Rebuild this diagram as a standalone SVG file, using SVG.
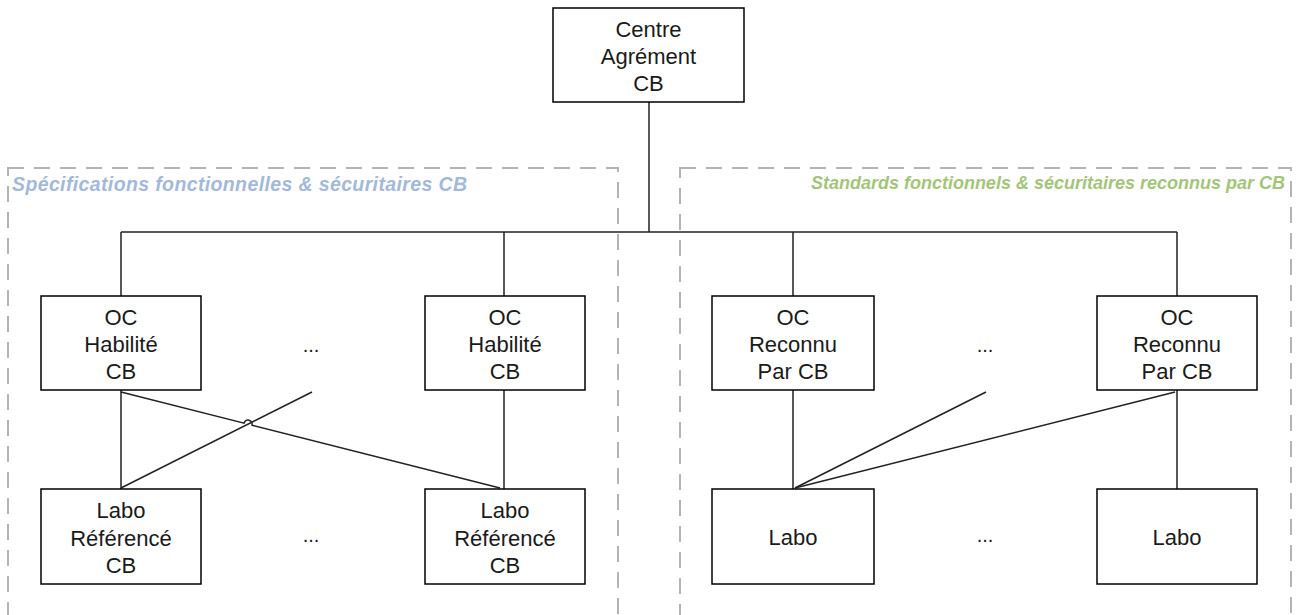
<svg xmlns="http://www.w3.org/2000/svg" width="1301" height="615" viewBox="0 0 1301 615">
<style>
.box{fill:#fff;stroke:#000;stroke-width:1.5}
.t{font-family:"Liberation Sans",Arial,sans-serif;font-size:22px;fill:#1a1a1a;text-anchor:middle}
.dots{font-family:"Liberation Sans",Arial,sans-serif;font-size:20px;fill:#1a1a1a;text-anchor:middle}
.zone{fill:none;stroke:#b4b4b4;stroke-width:2;stroke-dasharray:16 10}
.lbl{font-family:"Liberation Sans",Arial,sans-serif;font-style:italic;font-weight:bold}
.c{fill:none;stroke:#222;stroke-width:1.5}
</style>
<rect width="1301" height="615" fill="#fff"/>
<g id="zones">
<rect class="zone" x="8" y="168" width="610" height="460"/>
<rect class="zone" x="680" y="168" width="611" height="460"/>
<text class="lbl" x="12" y="191" font-size="19.5" textLength="455" lengthAdjust="spacing" fill="#a3b9d9">Spécifications fonctionnelles &amp; sécuritaires CB</text>
<text class="lbl" x="1285" y="189" font-size="18" fill="#a3c57a" text-anchor="end">Standards fonctionnels &amp; sécuritaires reconnus par CB</text>
</g>
<g id="connectors">
<path class="c" d="M649,102 V232"/>
<path class="c" d="M121,232 H1177"/>
<path class="c" d="M121,232 V296 M504,232 V296 M793,232 V296 M1177,232 V296"/>
<path class="c" d="M121,390 V489 M504,390 V489 M793,390 V489 M1177,390 V489"/>
<path class="c" d="M121,392 L244,423.2 A4,4 0 0 1 252,425.2 L500,488"/>
<path class="c" d="M121,488 L312,392"/>
<path class="c" d="M795,488 L986,392"/>
<path class="c" d="M795,488 L1175,392"/>
</g>
<g id="centre">
<rect class="box" x="553" y="8" width="191" height="94"/>
<text class="t" x="648.5" y="37">Centre</text>
<text class="t" x="648.5" y="64">Agrément</text>
<text class="t" x="648.5" y="91">CB</text>
</g>
<g id="oc-habilite-1">
<rect class="box" x="41" y="296" width="160" height="94"/>
<text class="t" x="121" y="325">OC</text>
<text class="t" x="121" y="352">Habilité</text>
<text class="t" x="121" y="379">CB</text>
</g>
<g id="oc-habilite-2">
<rect class="box" x="425" y="296" width="160" height="94"/>
<text class="t" x="505" y="325">OC</text>
<text class="t" x="505" y="352">Habilité</text>
<text class="t" x="505" y="379">CB</text>
</g>
<g id="oc-reconnu-1">
<rect class="box" x="712" y="296" width="162" height="94"/>
<text class="t" x="793" y="325">OC</text>
<text class="t" x="793" y="352">Reconnu</text>
<text class="t" x="793" y="379">Par CB</text>
</g>
<g id="oc-reconnu-2">
<rect class="box" x="1097" y="296" width="160" height="94"/>
<text class="t" x="1177" y="325">OC</text>
<text class="t" x="1177" y="352">Reconnu</text>
<text class="t" x="1177" y="379">Par CB</text>
</g>
<g id="labo-ref-1">
<rect class="box" x="41" y="489" width="160" height="95"/>
<text class="t" x="121" y="518">Labo</text>
<text class="t" x="121" y="546">Référencé</text>
<text class="t" x="121" y="573">CB</text>
</g>
<g id="labo-ref-2">
<rect class="box" x="425" y="489" width="160" height="95"/>
<text class="t" x="505" y="518">Labo</text>
<text class="t" x="505" y="546">Référencé</text>
<text class="t" x="505" y="573">CB</text>
</g>
<g id="labo-1">
<rect class="box" x="712" y="489" width="162" height="95"/>
<text class="t" x="793" y="545">Labo</text>
</g>
<g id="labo-2">
<rect class="box" x="1097" y="489" width="160" height="95"/>
<text class="t" x="1177" y="545">Labo</text>
</g>
<g id="ellipses">
<text class="dots" x="311" y="352">...</text>
<text class="dots" x="311" y="542">...</text>
<text class="dots" x="985" y="352">...</text>
<text class="dots" x="985" y="542">...</text>
</g>
</svg>
